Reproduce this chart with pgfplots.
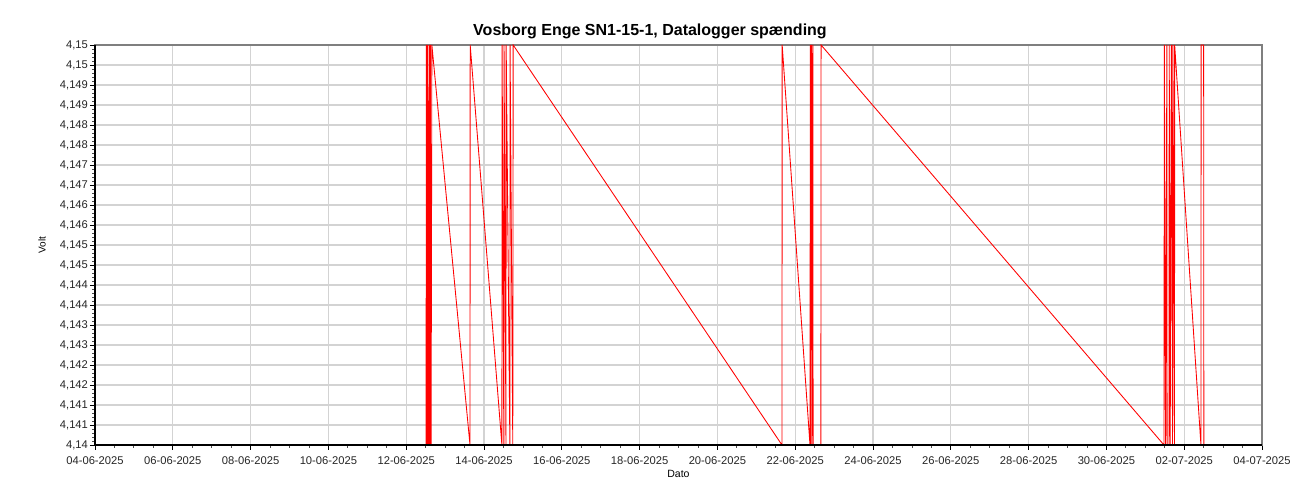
\documentclass[border=0pt]{standalone}
\usepackage{fontspec}
\setmainfont{Liberation Sans}
\usepackage{pgfplots}
\pgfplotsset{compat=1.18}
\definecolor{gridgray}{HTML}{D3D3D3}
\definecolor{framegray}{HTML}{7F7F7F}
\definecolor{datared}{HTML}{FF0000}
\begin{document}
\begin{tikzpicture}
\useasboundingbox (-71.25pt,-41.25pt) rectangle (903.75pt,333.75pt);
\begin{axis}[
  at={(0,0)}, anchor=south west,
  scale only axis, width=875.25pt, height=300pt,
  xmin=0, xmax=30, ymin=4.14, ymax=4.15,
  xtick={0,2,4,6,8,10,12,14,16,18,20,22,24,26,28,30},
  xticklabels={04-06-2025,06-06-2025,08-06-2025,10-06-2025,12-06-2025,14-06-2025,16-06-2025,18-06-2025,20-06-2025,22-06-2025,24-06-2025,26-06-2025,28-06-2025,30-06-2025,02-07-2025,04-07-2025},
  minor x tick num=3,
  ytick={4.14,4.1405,4.141,4.1415,4.142,4.1425,4.143,4.1435,4.144,4.1445,4.145,4.1455,4.146,4.1465,4.147,4.1475,4.148,4.1485,4.149,4.1495,4.15},
  yticklabels={{4,14},{4,141},{4,141},{4,142},{4,142},{4,143},{4,143},{4,144},{4,144},{4,145},{4,145},{4,146},{4,146},{4,147},{4,147},{4,148},{4,148},{4,149},{4,149},{4,15},{4,15}},
  minor y tick num=4,
  tick align=outside, xtick pos=bottom, ytick pos=left,
  major tick length=3.75pt, minor tick length=2pt,
  tick style={black, line width=0.7pt},
  minor tick style={black!70, line width=0.6pt},
  grid=major, major grid style={gridgray, line width=1pt},
  axis line style={framegray, line width=1.1pt},
  tick label style={font=\fontsize{8.4}{10}\selectfont, text=black!85},
  yticklabel style={xshift=2pt},
  xticklabel style={yshift=-1.5pt},
  title={Vosborg Enge SN1-15-1, Datalogger spænding},
  title style={font=\bfseries\fontsize{12}{14}\selectfont, at={(416.25pt,304pt)}, anchor=center},
  xlabel={Dato},
  xlabel style={font=\fontsize{7.9}{9}\selectfont, at={(437.6pt,-21.5pt)}, anchor=center},
  ylabel={Volt},
  ylabel style={font=\fontsize{7.5}{9}\selectfont, at={(-39.75pt,150pt)}, anchor=center, rotate=0},
]
\addplot[datared, line width=0.65pt, line join=miter] coordinates {
(8.51,4.14) (8.52,4.15) (8.53,4.14) (8.54,4.15) (8.55,4.14) (8.56,4.15)
(8.58,4.14) (8.60,4.15) (8.61,4.14) (8.62,4.15) (8.64,4.14) (8.66,4.15)
(9.64,4.14) (9.645,4.15)
(10.46,4.14) (10.465,4.15) (10.51,4.14) (10.515,4.15) (10.565,4.14) (10.57,4.15)
(10.665,4.14) (10.67,4.15) (10.74,4.14) (10.75,4.15)
(17.66,4.14) (17.665,4.15)
(18.38,4.14) (18.39,4.15) (18.41,4.14) (18.42,4.15) (18.45,4.14) (18.455,4.15) (18.46,4.14)
(18.66,4.14) (18.665,4.15)
(27.48,4.14) (27.49,4.15) (27.52,4.14) (27.555,4.15) (27.56,4.14)
(27.61,4.14) (27.615,4.15) (27.64,4.14) (27.67,4.15) (27.70,4.14) (27.71,4.15) (27.75,4.14) (27.755,4.15)
(28.43,4.14) (28.435,4.15) (28.50,4.15) (28.505,4.14)
};
\end{axis}
\draw[black, line width=1.6pt] (0,300pt) -- (0,0) -- (875.25pt,0);
\end{tikzpicture}
\end{document}
